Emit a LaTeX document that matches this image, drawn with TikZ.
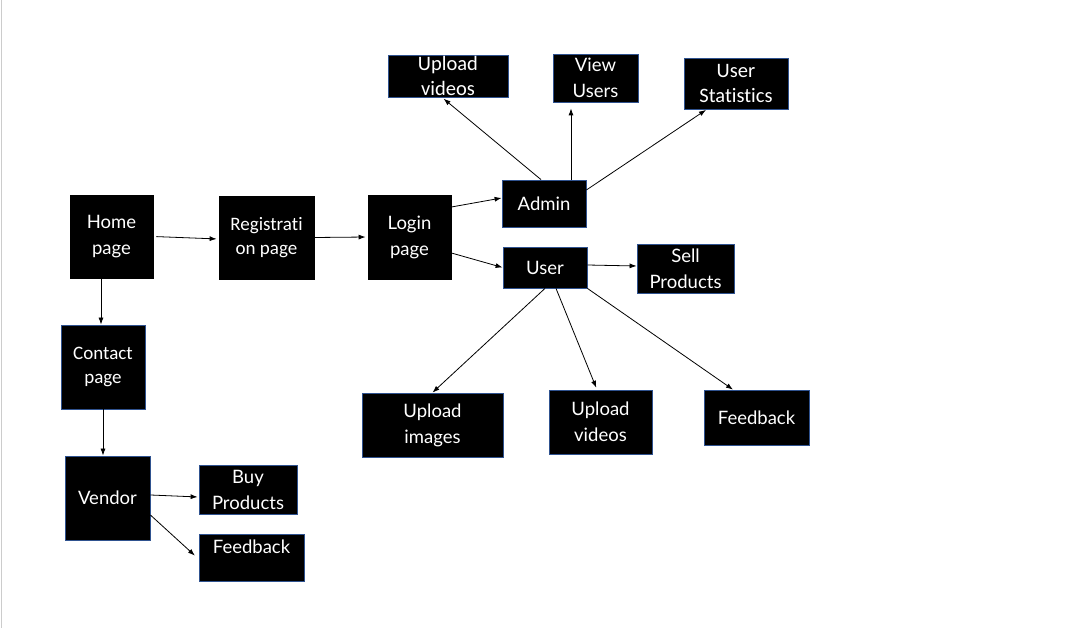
\documentclass[tikz,border=0pt]{standalone}
\usepackage{fontspec}
\setmainfont{Lato}
\newfontfamily\calib[Ligatures=NoCommon]{Carlito}
\usetikzlibrary{arrows.meta}
\definecolor{bordblue}{HTML}{2F528F}
\tikzset{
  box/.style={fill=black, draw=bordblue, line width=0.8pt, inner sep=0pt,
    text=white, align=center, font=\fontsize{18.5}{26}\selectfont},
  boxk/.style={box, draw=black},
  cal/.style={font=\calib\fontsize{19}{24.5}\selectfont},
  calbig/.style={font=\calib\fontsize{20.5}{25}\selectfont},
  lbl/.style={text=white, align=center, inner sep=0pt, font=\fontsize{18.5}{26}\selectfont},
  arr/.style={-{Latex[length=7pt,width=5pt]}, line width=0.8pt, black},
}
\begin{document}
\begin{tikzpicture}[x=1pt,y=-1pt]
\useasboundingbox (0,0) rectangle (1072,628);
\fill[white] (0,0) rectangle (1072,628);
\draw[gray!40, line width=1.5pt] (1.5,0) -- (1.5,628);

% nodes
\node[boxk, minimum width=83, minimum height=83] (home) at (111.5,236.5) {Home\\page};
\node[boxk, cal, minimum width=95, minimum height=83] (reg) at (266.5,237.5) {Registrati\\on page};
\node[boxk, minimum width=83, minimum height=84] (login) at (409.5,237) {Login\\page};
\node[box, cal, minimum width=84, minimum height=84] (contact) at (103,367) {Contact\\page};
\node[box, minimum width=85, minimum height=84] (vendor) at (107.5,498) {Vendor};
\node[box, minimum width=98, minimum height=49] (buy) at (248,489.5) {Buy\\Products};
\node[box, minimum width=105, minimum height=47] (vfb) at (251.5,557.5) {};
\node[lbl] (vfbt) at (251.5,547) {Feedback};
\node[box, minimum width=84, minimum height=47] (admin) at (544,203.5) {Admin};
\node[box, minimum width=84, minimum height=41] (user) at (545,267.5) {User};
\node[box, minimum width=97, minimum height=49] (sell) at (685.5,268.5) {Sell\\Products};
\node[box, calbig, minimum width=120, minimum height=42] (upvt) at (448,76) {Upload\\videos};
\node[box, minimum width=85, minimum height=48] (view) at (595.5,78) {View\\Users};
\node[box, calbig, minimum width=104, minimum height=51] (ustat) at (736,84) {User\\Statistics};
\node[box, minimum width=141, minimum height=64] (upimg) at (432.5,425) {Upload\\images};
\node[box, minimum width=103, minimum height=64] (upvb) at (600.5,422) {Upload\\videos};
\node[box, minimum width=105, minimum height=55] (ufb) at (756.5,417.5) {Feedback};

% connectors
\draw[arr, shorten <=3pt, shorten >=2pt] (home.east) -- ([yshift=-1.5pt]reg.west);
\draw[arr, shorten >=2pt] (reg.east) -- (login.west);
\draw[arr] ([yshift=30pt]login.east) -- ([yshift=5.5pt]admin.west);
\draw[arr] ([yshift=-16pt]login.east) -- (user.west);
\draw[arr, shorten >=2pt] ([xshift=-3pt]admin.north) -- ([xshift=-6pt]upvt.south);
\draw[arr, shorten >=6pt] ([xshift=27pt]admin.north) -- ([xshift=-24.5pt]view.south);
\draw[arr] ([yshift=13.5pt]admin.east) -- ([xshift=-30pt]ustat.south);
\draw[arr] ([yshift=2.5pt]user.east) -- ([yshift=2.5pt]sell.west);
\draw[arr] (user.south) -- (upimg.north);
\draw[arr, shorten >=2pt] ([xshift=11pt]user.south) -- ([xshift=-3.5pt]upvb.north);
\draw[arr] (user.south east) -- ([xshift=-23.5pt]ufb.north);
\draw[arr, shorten <=1pt] ([xshift=-10.5pt]home.south) -- ([xshift=-2pt]contact.north);
\draw[arr] (contact.south) -- ([xshift=-4.5pt]vendor.north);
\draw[arr, shorten >=1pt] ([yshift=3pt]vendor.east) -- ([yshift=-7.5pt]buy.west);
\draw[arr, shorten >=5pt] ([yshift=-17pt]vendor.east) -- ([yshift=-1.5pt]vfb.west);
\end{tikzpicture}
\end{document}
